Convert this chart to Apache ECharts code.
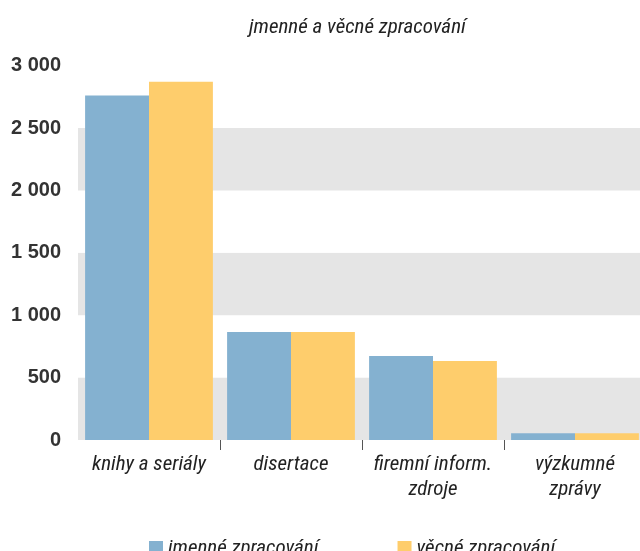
<!DOCTYPE html>
<html>
<head>
<meta charset="utf-8">
<script src="https://cdn.jsdelivr.net/npm/echarts@6/dist/echarts.min.js"></script>
<style>
  html, body { margin: 0; padding: 0; background: #fff; overflow: hidden; }
  /* the plot runs a little past the right edge of the picture */
  #chart { width: 646px; height: 551px; }
</style>
</head>
<body>
<div id="chart"></div>
<script>
// data
const categories = ['knihy a seriály', 'disertace', 'firemní inform.\nzdroje', 'výzkumné\nzprávy'];
const jmenne = [2760, 865, 673, 55];
const vecne = [2870, 865, 633, 55];
const seriesNames = ['jmenné zpracování', 'věcné zpracování'];

const narrow = '"Liberation Sans Narrow", "Arial Narrow", "Roboto Condensed", sans-serif';

let chart = echarts.init(document.getElementById('chart'));
let option = {
  animation: false,
  title: {
    text: 'jmenné a věcné zpracování',
    left: 244,
    top: 12,
    textStyle: { fontFamily: narrow, fontStyle: 'italic', fontWeight: 'normal', fontSize: 21, color: '#222' }
  },
  legend: {
    data: seriesNames,
    left: 144,
    top: 533,
    itemWidth: 14,
    itemHeight: 15,
    itemGap: 79,
    icon: 'rect',
    textStyle: { fontFamily: narrow, fontStyle: 'italic', fontSize: 21, color: '#222' }
  },
  grid: { left: 78, right: 0, top: 65.6, bottom: 111, containLabel: false },
  xAxis: {
    type: 'category',
    data: categories,
    axisLine: { show: false },
    axisTick: {
      show: true,
      length: 10,
      interval: (i) => i !== 0,
      lineStyle: { color: '#555', width: 1 }
    },
    axisLabel: {
      interval: 0,
      margin: 12,
      lineHeight: 25,
      fontFamily: narrow,
      fontStyle: 'italic',
      fontSize: 21,
      color: '#222'
    }
  },
  yAxis: {
    type: 'value',
    min: 0,
    max: 3000,
    interval: 500,
    axisLine: { show: false },
    axisTick: { show: false },
    splitLine: { show: false },
    splitArea: { show: true, areaStyle: { color: ['#e5e5e5', '#ffffff'] } },
    axisLabel: {
      margin: 17,
      fontFamily: 'Liberation Sans, Arial, sans-serif',
      fontWeight: 'bold',
      fontSize: 20,
      color: '#333',
      formatter: v => String(v).replace(/\B(?=(\d{3})+(?!\d))/g, ' ')
    }
  },
  series: [
    {
      name: seriesNames[0],
      type: 'bar',
      data: jmenne,
      barGap: '0%',
      barCategoryGap: '10%',
      itemStyle: { color: '#84b1d0' }
    },
    {
      name: seriesNames[1],
      type: 'bar',
      data: vecne,
      itemStyle: { color: '#fecd6c' }
    }
  ]
};
chart.setOption(option);
</script>
</body>
</html>
